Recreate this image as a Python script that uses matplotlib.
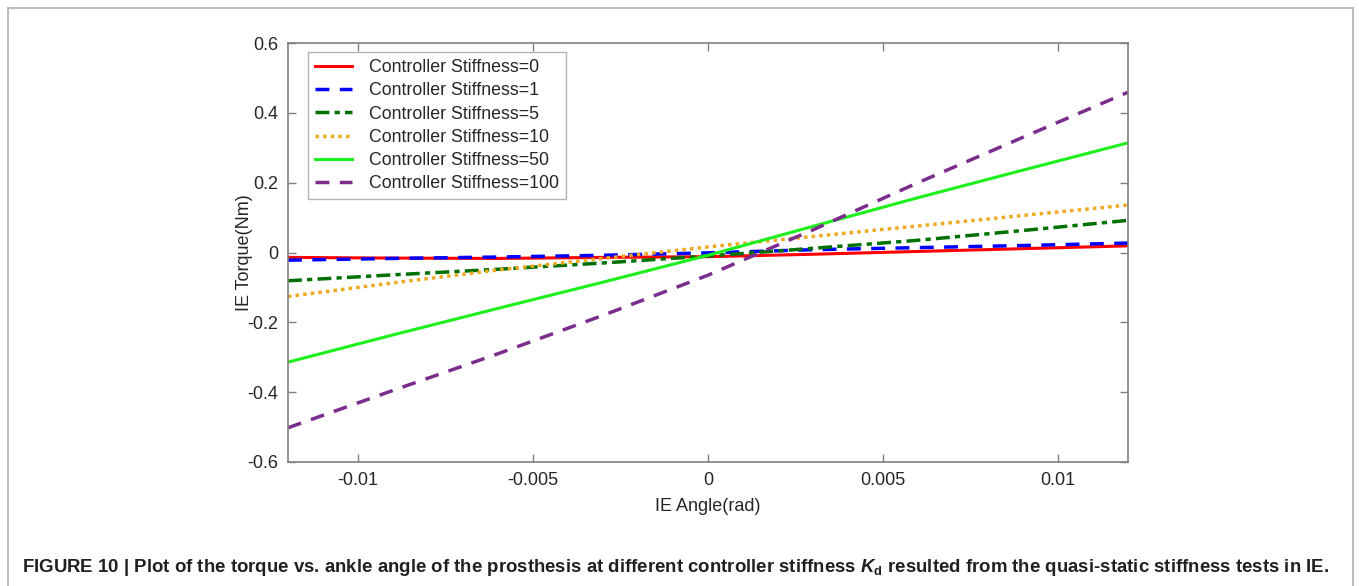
import matplotlib
matplotlib.use("Agg")
import matplotlib.pyplot as plt
from matplotlib.lines import Line2D

plt.rcParams['font.family'] = ['Liberation Sans', 'DejaVu Sans']
plt.rcParams['mathtext.fontset'] = 'custom'
plt.rcParams['mathtext.rm'] = 'Liberation Sans'
plt.rcParams['mathtext.bf'] = 'Liberation Sans:bold'
plt.rcParams['mathtext.it'] = 'Liberation Sans:italic'
plt.rcParams['mathtext.bfit'] = 'Liberation Sans:italic:bold'

# ---- data ----
angle = [-0.012, -0.009, -0.006, -0.003, 0.0, 0.003, 0.006, 0.009, 0.012]
torque_k0 = [-0.014, -0.016, -0.017, -0.014, -0.012, -0.005, 0.003, 0.011, 0.019]
torque_k1 = [-0.022, -0.017, -0.013, -0.008, -0.001, 0.008, 0.014, 0.020, 0.027]
torque_k5 = [-0.081, -0.064, -0.048, -0.030, -0.010, 0.012, 0.035, 0.063, 0.092]
torque_k10 = [-0.126, -0.087, -0.050, -0.017, 0.016, 0.046, 0.076, 0.106, 0.136]
torque_k50 = [-0.314, -0.236, -0.160, -0.085, -0.008, 0.075, 0.157, 0.236, 0.314]
torque_k100 = [-0.502, -0.395, -0.290, -0.180, -0.065, 0.065, 0.200, 0.330, 0.459]

labels = ['Controller Stiffness=0', 'Controller Stiffness=1',
          'Controller Stiffness=5', 'Controller Stiffness=10',
          'Controller Stiffness=50', 'Controller Stiffness=100']
x_ticks = [-0.01, -0.005, 0, 0.005, 0.01]
x_ticklabels = ['-0.01', '-0.005', '0', '0.005', '0.01']
y_ticks = [-0.6, -0.4, -0.2, 0, 0.2, 0.4, 0.6]
y_ticklabels = ['-0.6', '-0.4', '-0.2', '0', '0.2', '0.4', '0.6']

series = [torque_k0, torque_k1, torque_k5, torque_k10, torque_k50, torque_k100]
styles = [
    dict(color='#ff0000', linestyle='-', linewidth=2.2),
    dict(color='#0000ff', linestyle=(0, (4, 3)), linewidth=2.5),
    dict(color='#007000', linestyle=(0, (4, 1.5, 1.5, 1.5)), linewidth=2.5),
    dict(color='#f0a820', linestyle=(0, (1, 1.2)), linewidth=2.5),
    dict(color='#1cf01c', linestyle='-', linewidth=2.2),
    dict(color='#7b2d8e', linestyle=(0, (4, 3)), linewidth=2.5),
]

fig = plt.figure(figsize=(13.59, 5.86), dpi=100)
ax = fig.add_axes([288/1359, 1-462/586, 840/1359, 419/586])

for ys, lab, st in zip(series, labels, styles):
    ax.plot(angle, ys, label=lab, **st)

ax.set_xlim(-0.012, 0.012)
ax.set_ylim(-0.6, 0.6)
ax.set_xticks(x_ticks)
ax.set_xticklabels(x_ticklabels)
ax.set_yticks(y_ticks)
ax.set_yticklabels(y_ticklabels)
ax.tick_params(direction='in', length=6, width=1, color='#808080',
               labelsize=13, labelcolor='#262626', top=True, right=True, pad=7)
for sp in ax.spines.values():
    sp.set_color('#808080')
    sp.set_linewidth(1.2)
ax.set_xlabel('IE Angle(rad)', fontsize=13, color='#262626', labelpad=7)
ax.set_ylabel('IE Torque(Nm)', fontsize=13, color='#262626', labelpad=-4)

leg = ax.legend(loc='upper left', bbox_to_anchor=(20/840, 1-9/419), fontsize=12.8,
                frameon=True, fancybox=False, edgecolor='#a0a0a0',
                handlelength=2.1, handletextpad=0.95, labelspacing=0.35,
                borderpad=0.4, borderaxespad=0)
leg.get_frame().set_linewidth(1.0)
for t in leg.get_texts():
    t.set_color('#262626')

# outer frame of the figure panel
fc = '#b0b0b0'
x0, x1, yt = 8/1359, 1353/1359, 1-8/586
fig.add_artist(Line2D([x0, x1], [yt, yt], transform=fig.transFigure, color=fc, lw=1.2))
fig.add_artist(Line2D([x0, x0], [yt, -0.05], transform=fig.transFigure, color=fc, lw=1.2))
fig.add_artist(Line2D([x1, x1], [yt, -0.05], transform=fig.transFigure, color=fc, lw=1.2))

caption = (r'FIGURE 10 | Plot of the torque vs. ankle angle of the prosthesis at different '
           r'controller stiffness $\mathbfit{K}_{\mathbf{d}}$ resulted from the quasi-static '
           r'stiffness tests in IE.')
fig.text(22/1359, 1-567/586, caption, fontsize=13.4, fontweight='bold',
         color='#231f20', ha='left', va='center')

fig.savefig('out.png', dpi=100)
